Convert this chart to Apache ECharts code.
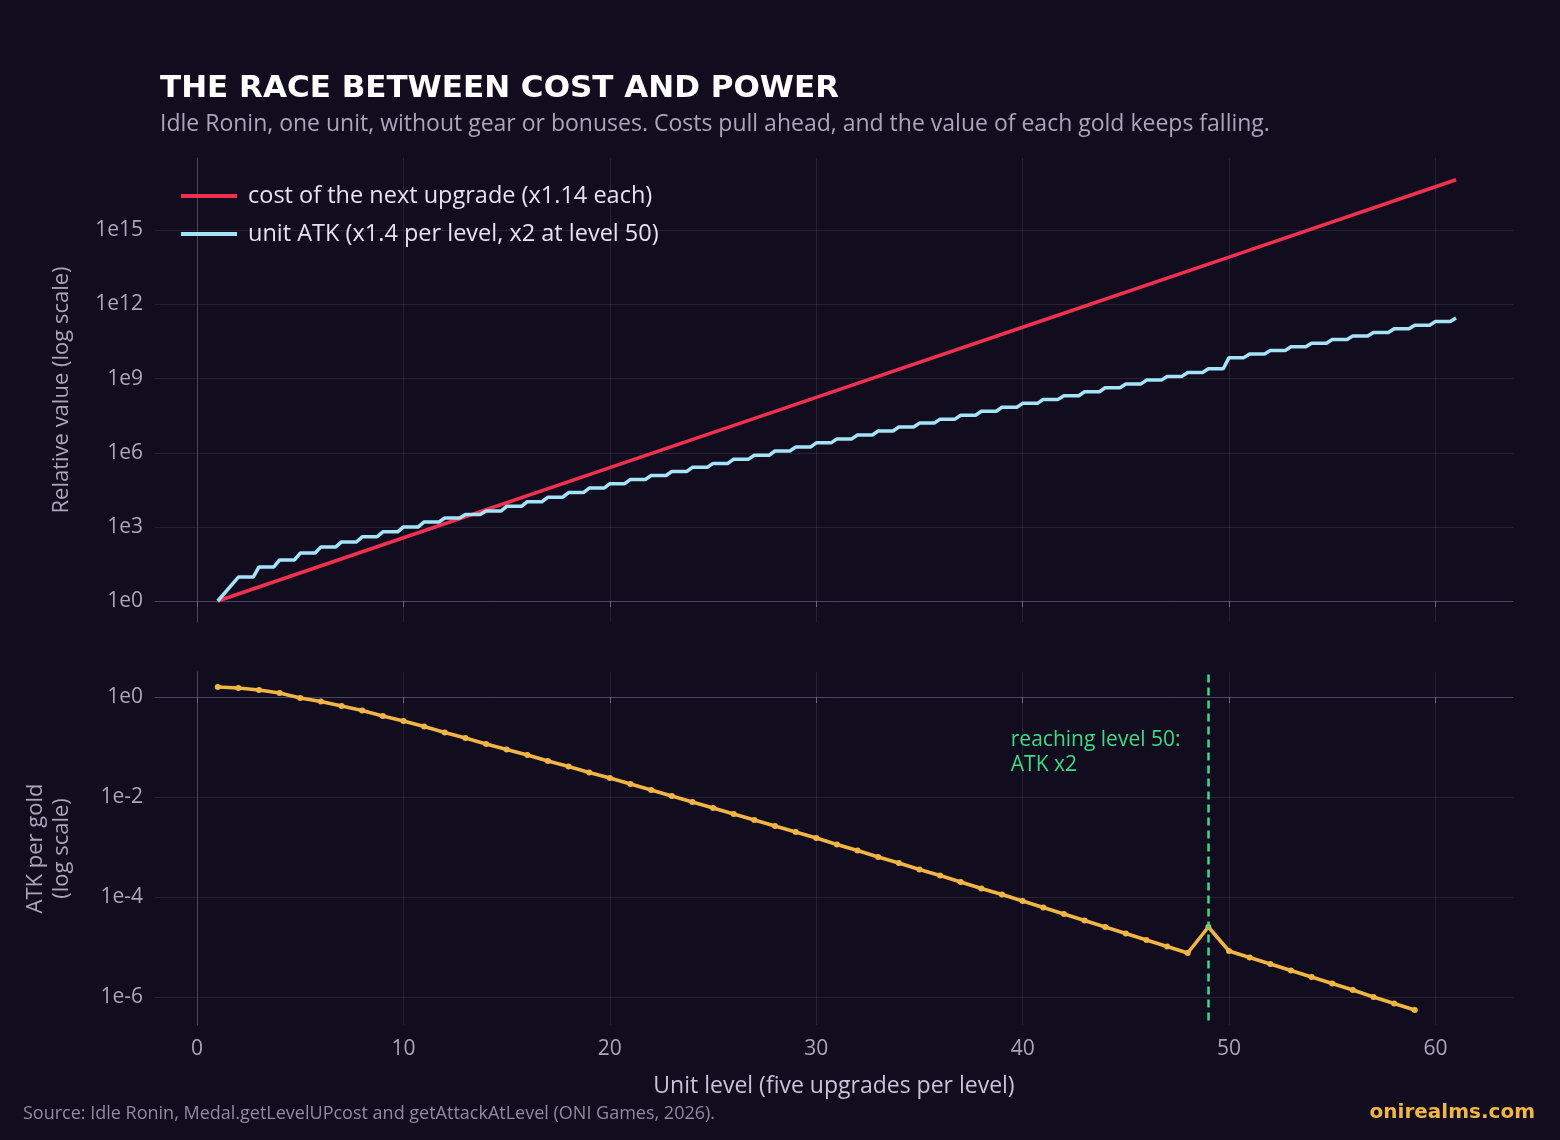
<!DOCTYPE html>
<html>
<head>
<meta charset="utf-8">
<script src="https://cdn.jsdelivr.net/npm/echarts@6/dist/echarts.min.js"></script>
<style>
html, body { margin: 0; padding: 0; background: #110d1f; }
#chart { width: 1560px; height: 1140px; }
</style>
</head>
<body>
<div id="chart"></div>
<script>
// cost of the next upgrade, log10, read at a few levels (straight line on log scale)
var costLevels = [1, 10, 20, 30, 40, 50, 61];
var costLog = [0, 2.56, 5.4, 8.24, 11.08, 13.92, 17.05];

// unit ATK per level (log10), levels 1..61
var atkLevels = [];
for (var i = 1; i <= 61; i++) atkLevels.push(i);
var atkLog = [0, 0.97, 1.38, 1.66, 1.94, 2.19, 2.39, 2.6, 2.8, 3.0,
    3.2, 3.36, 3.5, 3.64, 3.83, 4.02, 4.2, 4.39, 4.57, 4.75,
    4.92, 5.08, 5.24, 5.41, 5.57, 5.74, 5.9, 6.07, 6.23, 6.4,
    6.56, 6.72, 6.88, 7.04, 7.2, 7.36, 7.52, 7.68, 7.84, 8.0,
    8.16, 8.31, 8.47, 8.63, 8.78, 8.94, 9.09, 9.25, 9.4, 9.85,
    10.0, 10.14, 10.29, 10.43, 10.58, 10.73, 10.87, 11.02, 11.16, 11.31, 11.45];

// ATK per gold (log10), levels 1..59
var perGoldLevels = [];
for (var j = 1; j <= 59; j++) perGoldLevels.push(j);
var perGoldLog = [0.2, 0.18, 0.14, 0.08, -0.02, -0.09, -0.18, -0.27, -0.38, -0.48,
    -0.59, -0.71, -0.82, -0.94, -1.05, -1.16, -1.28, -1.39, -1.51, -1.62,
    -1.74, -1.86, -1.98, -2.1, -2.22, -2.34, -2.46, -2.58, -2.7, -2.82,
    -2.95, -3.07, -3.2, -3.32, -3.45, -3.57, -3.7, -3.83, -3.95, -4.08,
    -4.21, -4.34, -4.47, -4.6, -4.73, -4.86, -4.99, -5.12, -4.6, -5.08,
    -5.21, -5.34, -5.47, -5.6, -5.73, -5.86, -6.0, -6.13, -6.26];

var xTicks = [0, 10, 20, 30, 40, 50, 60];
var topTicks = [0, 3, 6, 9, 12, 15];
var bottomTicks = [0, -2, -4, -6];

var font = '"Open Sans", "Noto Sans", sans-serif';
var gray = '#aaa6ba';
var gridColor = 'rgba(255,255,255,0.09)';

// staircase: flat over most of the level, climbs during the last upgrade
var atkData = [];
atkLevels.forEach(function (lv, k) {
    atkData.push([lv, atkLog[k]]);
    if (k > 0 && k < atkLevels.length - 1) atkData.push([lv + 0.72, atkLog[k]]);
});

function xAxisOf(idx, showLabels) {
    return {
        type: 'value', gridIndex: idx, min: -2.04, max: 63.76,
        axisLine: { show: true, lineStyle: { color: '#4a4660' } },
        axisTick: { show: true, length: 6, customValues: xTicks, lineStyle: { color: '#6a6680' } },
        axisLabel: { show: showLabels, customValues: xTicks, color: gray, fontSize: 21, fontFamily: font, margin: 14 },
        splitLine: { show: true, lineStyle: { color: gridColor } },
        name: showLabels ? 'Unit level (five upgrades per level)' : '',
        nameLocation: 'middle', nameGap: 50,
        nameTextStyle: { color: '#c8c4d8', fontSize: 23, fontFamily: font }
    };
}

function yAxisOf(idx, mn, mx, ticks, name, gap) {
    return {
        type: 'value', gridIndex: idx, min: mn, max: mx,
        axisLine: { show: true, lineStyle: { color: '#4a4660' } },
        axisTick: { show: false, customValues: ticks },
        axisLabel: {
            customValues: ticks, color: gray, fontSize: 21, fontFamily: font, margin: 12,
            formatter: function (v) { return '1e' + v; }
        },
        splitLine: { show: true, lineStyle: { color: gridColor } },
        name: name, nameLocation: 'middle', nameGap: gap,
        nameTextStyle: { color: gray, fontSize: 22, fontFamily: font, lineHeight: 26 }
    };
}

var chart = echarts.init(document.getElementById('chart'));
chart.setOption({
    backgroundColor: '#110d1f',
    animation: false,
    title: [{
        text: 'THE RACE BETWEEN COST AND POWER',
        left: 155, top: 68,
        textStyle: { color: '#ffffff', fontSize: 31, fontWeight: 'bold', fontFamily: '"DejaVu Sans", sans-serif' }
    }, {
        text: 'Idle Ronin, one unit, without gear or bonuses. Costs pull ahead, and the value of each gold keeps falling.',
        left: 155, top: 108,
        textStyle: { color: gray, fontSize: 23, fontWeight: 'normal', fontFamily: font }
    }, {
        text: 'Source: Idle Ronin, Medal.getLevelUPcost and getAttackAtLevel (ONI Games, 2026).',
        left: 18, top: 1100,
        textStyle: { color: '#8e8aa0', fontSize: 18, fontWeight: 'normal', fontFamily: font }
    }, {
        text: 'onirealms.com',
        right: 20, top: 1098,
        textStyle: { color: '#f0b545', fontSize: 20, fontWeight: 'bold', fontFamily: '"DejaVu Sans", sans-serif' }
    }],
    legend: {
        orient: 'vertical', left: 176, top: 179, itemGap: 14,
        itemWidth: 56, itemHeight: 4, icon: 'rect',
        textStyle: { color: '#e6e2f0', fontSize: 23.5, fontFamily: font, padding: [0, 0, 0, 6] },
        data: ['cost of the next upgrade (x1.14 each)', 'unit ATK (x1.4 per level, x2 at level 50)']
    },
    grid: [
        { left: 155, right: 47, top: 158, height: 464 },
        { left: 155, right: 47, top: 672, height: 353 }
    ],
    xAxis: [xAxisOf(0, false), xAxisOf(1, true)],
    yAxis: [
        yAxisOf(0, -0.85, 17.93, topTicks, 'Relative value (log scale)', 80),
        yAxisOf(1, -6.56, 0.5, bottomTicks, 'ATK per gold\n(log scale)', 80)
    ],
    series: [{
        name: 'cost of the next upgrade (x1.14 each)',
        type: 'line', xAxisIndex: 0, yAxisIndex: 0, showSymbol: false,
        lineStyle: { color: '#f0304f', width: 3.5 }, itemStyle: { color: '#f0304f' },
        data: costLevels.map(function (lv, k) { return [lv, costLog[k]]; }),
        z: 3
    }, {
        name: 'unit ATK (x1.4 per level, x2 at level 50)',
        type: 'line', xAxisIndex: 0, yAxisIndex: 0, showSymbol: false,
        lineStyle: { color: '#a5e4f8', width: 3.5 }, itemStyle: { color: '#a5e4f8' },
        data: atkData, z: 4
    }, {
        name: 'ATK per gold',
        type: 'line', xAxisIndex: 1, yAxisIndex: 1,
        symbol: 'circle', symbolSize: 6,
        lineStyle: { color: '#f0b545', width: 3.5 }, itemStyle: { color: '#f0b545' },
        data: perGoldLevels.map(function (lv, k) { return [lv, perGoldLog[k]]; }),
        markLine: {
            silent: true, symbol: 'none',
            lineStyle: { color: '#3ddc84', type: [8, 5], width: 2.5 },
            label: { show: false },
            data: [[{ coord: [49, 0.45] }, { coord: [49, -6.56] }]]
        },
        markPoint: {
            silent: true, symbol: 'circle', symbolSize: 1,
            itemStyle: { color: 'rgba(0,0,0,0)' },
            label: {
                show: true, position: [0, 0], formatter: 'reaching level 50:\nATK x2',
                color: '#3ddc84', fontSize: 21, fontFamily: font,
                align: 'left', verticalAlign: 'top', lineHeight: 25
            },
            data: [{ coord: [39.45, -0.62] }]
        }
    }]
});
</script>
</body>
</html>
